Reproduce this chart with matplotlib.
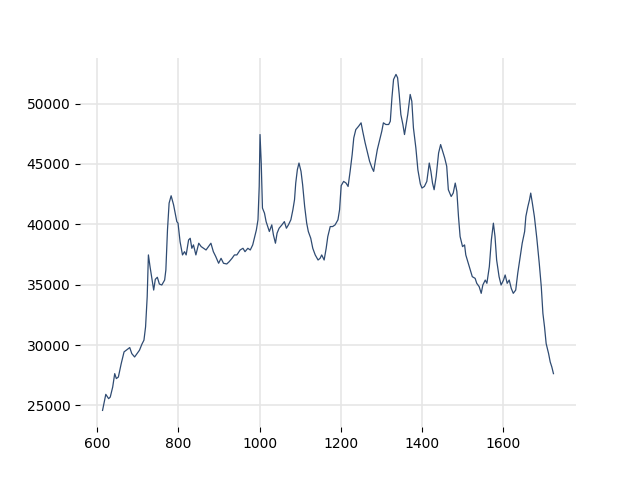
import matplotlib
matplotlib.use("Agg")
import matplotlib.pyplot as plt

# values
x_vals = [613, 621, 628, 632, 638, 643, 647, 652, 659, 666, 674, 680, 685, 692, 698,
          704, 710, 715, 719, 723, 726, 730, 735, 739, 743, 748, 753, 759, 766, 769,
          773, 777, 782, 788, 796, 799, 804, 810, 815, 819, 825, 829, 833, 837, 843,
          850, 856, 862, 868, 874, 880, 886, 892, 899, 905, 911, 919, 925, 932, 938,
          944, 952, 959, 964, 971, 977, 983, 988, 992, 996, 999, 1001, 1004, 1007, 1012,
          1016, 1020, 1024, 1030, 1034, 1039, 1043, 1048, 1055, 1061, 1066, 1071, 1077, 1082, 1086,
          1089, 1093, 1097, 1102, 1106, 1111, 1116, 1120, 1126, 1131, 1137, 1144, 1149, 1153, 1159,
          1164, 1168, 1174, 1180, 1186, 1193, 1197, 1201, 1207, 1213, 1218, 1223, 1228, 1232, 1237,
          1244, 1250, 1254, 1260, 1266, 1271, 1277, 1281, 1285, 1290, 1295, 1301, 1305, 1311, 1318,
          1322, 1326, 1330, 1336, 1340, 1344, 1348, 1353, 1357, 1361, 1365, 1371, 1375, 1379, 1385,
          1390, 1396, 1400, 1406, 1412, 1418, 1422, 1426, 1430, 1435, 1441, 1446, 1451, 1456, 1461,
          1465, 1472, 1477, 1482, 1486, 1490, 1494, 1500, 1505, 1508, 1513, 1519, 1524, 1531, 1535,
          1541, 1546, 1550, 1556, 1560, 1566, 1571, 1576, 1580, 1584, 1590, 1595, 1601, 1605, 1610,
          1615, 1620, 1625, 1631, 1636, 1642, 1647, 1653, 1656, 1661, 1665, 1668, 1672, 1677, 1683,
          1689, 1694, 1698, 1702, 1706, 1712, 1716, 1720, 1724]
y_vals = [24585, 25914, 25557, 25690, 26520, 27630, 27220, 27350, 28460, 29430, 29630, 29790, 29290, 29010, 29290,
          29570, 30070, 30400, 31500, 33990, 37460, 36490, 35380, 34550, 35440, 35610, 35050, 34970, 35380, 36210,
          39530, 41750, 42360, 41610, 40220, 40090, 38560, 37460, 37730, 37460, 38700, 38840, 38010, 38290, 37460,
          38430, 38150, 38010, 37870, 38150, 38430, 37730, 37320, 36770, 37180, 36770, 36710, 36900, 37180, 37460,
          37460, 37870, 38010, 37730, 38010, 37870, 38290, 38980, 39530, 40370, 43130, 47430, 45070, 41340, 40920,
          40220, 39810, 39400, 39950, 39120, 38430, 39260, 39670, 39950, 40220, 39670, 39950, 40370, 41200, 42030,
          43410, 44520, 45070, 44380, 43270, 41470, 40090, 39400, 38840, 38010, 37460, 37040, 37180, 37460, 37040,
          38010, 38980, 39810, 39810, 39950, 40370, 41200, 43200, 43550, 43410, 43130, 44380, 45760, 47150, 47840,
          48120, 48400, 47700, 46740, 45900, 45210, 44660, 44380, 45210, 46180, 46870, 47700, 48400, 48260, 48260,
          48530, 50470, 51990, 52410, 52130, 50750, 49090, 48260, 47430, 48260, 49090, 50750, 50190, 47980, 46320,
          44500, 43340, 43000, 43130, 43550, 45070, 44380, 43410, 42860, 43960, 45900, 46600, 46040, 45490, 44800,
          42860, 42300, 42580, 43410, 42720, 40640, 38980, 38150, 38290, 37460, 36900, 36210, 35660, 35520, 35110,
          34830, 34280, 34970, 35380, 35110, 36490, 38700, 40090, 38980, 37040, 35660, 34970, 35380, 35800, 35110,
          35380, 34690, 34280, 34550, 35940, 37320, 38430, 39400, 40640, 41470, 42030, 42580, 41750, 40640, 38840,
          36770, 34830, 32620, 31500, 30120, 29290, 28600, 28180, 27630]

fig, ax = plt.subplots(figsize=(6.4, 4.8), dpi=100)
ax.plot(x_vals, y_vals, color='#2f4b72', linewidth=0.9)

ax.grid(True, color='#e6e6e6', linewidth=1.2)
ax.set_axisbelow(True)
for s in ax.spines.values():
    s.set_visible(False)

fig.savefig('out.png')
